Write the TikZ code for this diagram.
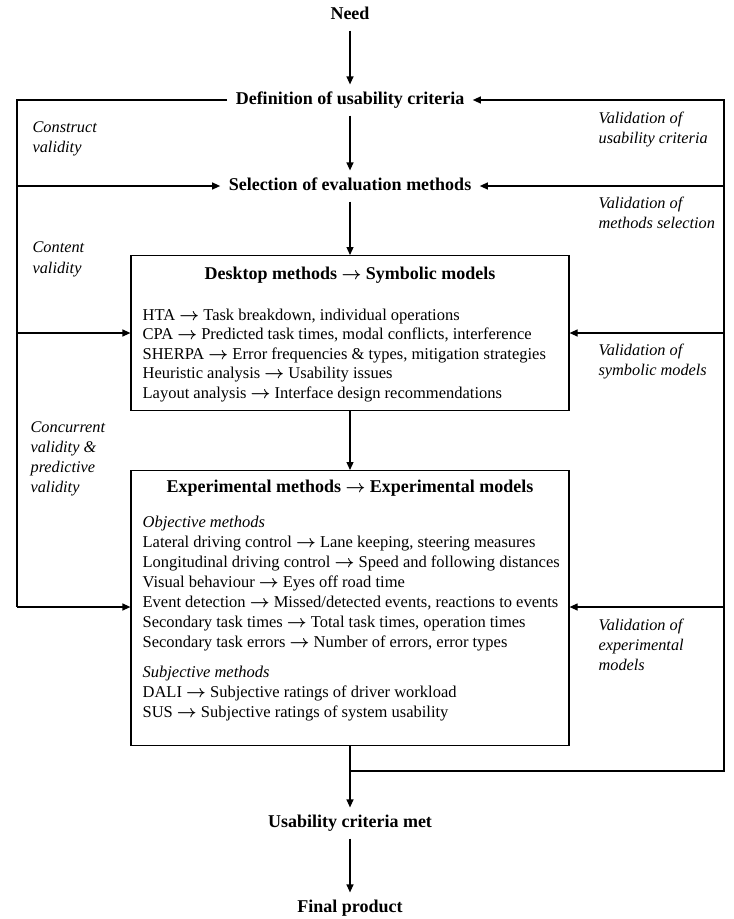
\documentclass[tikz,border=0pt]{standalone}
\usepackage{fontspec}
\setmainfont{Liberation Serif}
\newcommand{\ra}{{\boldmath$\rightarrow$}}
\usetikzlibrary{arrows.meta}
\begin{document}
\begin{tikzpicture}[x=1pt,y=-1pt,
  line width=1.2pt,
  arr/.style={-{Triangle[length=8pt,width=7pt]}},
  stage/.style={font=\fontsize{18}{21}\selectfont\bfseries, inner xsep=8pt, inner ysep=7pt, text height=12pt, text depth=4pt},
  boxtitle/.style={font=\fontsize{18}{21}\selectfont\bfseries, anchor=base, inner sep=0pt},
  body/.style={font=\fontsize{16.5}{19}\selectfont, anchor=base west, inner sep=0pt},
  ibody/.style={font=\fontsize{16.5}{19}\selectfont\itshape, anchor=base west, inner sep=0pt},
  lab/.style={font=\fontsize{16.3}{19}\selectfont\itshape, anchor=base west, inner sep=0pt},
  panel/.style={draw, line width=1.2pt, inner sep=0pt, minimum width=438pt, anchor=north}]
\useasboundingbox (0,0) rectangle (734,919);

% main stages
\node[stage] (need) at (350,15) {Need};
\node[stage] (def) at (350,100) {Definition of usability criteria};
\node[stage] (sel) at (350,186) {Selection of evaluation methods};
\node[stage] (usab) at (350,823) {Usability criteria met};
\node[stage] (final) at (350,908) {Final product};

% boxes
\node[panel, minimum height=155pt] (box1) at (350,255) {};
\node[panel, minimum height=275pt] (box2) at (350,470) {};

% box 1 text
\node[boxtitle] (t1) at (350,279) {Desktop methods \ra{} Symbolic models};
\node[body] (b11) at (142,320) {HTA \ra{} Task breakdown, individual operations};
\node[body] (b12) at (142,339.5) {CPA \ra{} Predicted task times, modal conflicts, interference};
\node[body] (b13) at (142,359) {SHERPA \ra{} Error frequencies \& types, mitigation strategies};
\node[body] (b14) at (142,378.5) {Heuristic analysis \ra{} Usability issues};
\node[body] (b15) at (142,398) {Layout analysis \ra{} Interface design recommendations};

% box 2 text
\node[boxtitle] (t2) at (350,492) {Experimental methods \ra{} Experimental models};
\node[ibody] (b20) at (142,527) {Objective methods};
\node[body] (b21) at (142,547) {Lateral driving control \ra{} Lane keeping, steering measures};
\node[body] (b22) at (142,567) {Longitudinal driving control \ra{} Speed and following distances};
\node[body] (b23) at (142,587) {Visual behaviour \ra{} Eyes off road time};
\node[body] (b24) at (142,607) {Event detection \ra{} Missed/detected events, reactions to events};
\node[body] (b25) at (142,627) {Secondary task times \ra{} Total task times, operation times};
\node[body] (b26) at (142,647) {Secondary task errors \ra{} Number of errors, error types};
\node[ibody] (b27) at (142,677) {Subjective methods};
\node[body] (b28) at (142,697) {DALI \ra{} Subjective ratings of driver workload};
\node[body] (b29) at (142,717) {SUS \ra{} Subjective ratings of system usability};

% left labels
\node[lab] (l1a) at (32,132) {Construct};
\node[lab] (l1b) at (32,152) {validity};
\node[lab] (l2a) at (32,252) {Content};
\node[lab] (l2b) at (32,273) {validity};
\node[lab] (l3a) at (30,432) {Concurrent};
\node[lab] (l3b) at (30,452) {validity \&};
\node[lab] (l3c) at (30,472) {predictive};
\node[lab] (l3d) at (30,492) {validity};

% right labels
\node[lab] (r1a) at (598,123) {Validation of};
\node[lab] (r1b) at (598,143) {usability criteria};
\node[lab] (r2a) at (598,208) {Validation of};
\node[lab] (r2b) at (598,228) {methods selection};
\node[lab] (r3a) at (598,355) {Validation of};
\node[lab] (r3b) at (598,375) {symbolic models};
\node[lab] (r4a) at (598,630) {Validation of};
\node[lab] (r4b) at (598,650) {experimental};
\node[lab] (r4c) at (598,670) {models};

% frame coordinates
\coordinate (L1) at (17,100);
\coordinate (L2) at (17,186);
\coordinate (L3) at (17,333);
\coordinate (L4) at (17,607);
\coordinate (R1) at (724,100);
\coordinate (R2) at (724,186);
\coordinate (R3) at (724,333);
\coordinate (R4) at (724,607);
\coordinate (R5) at (724,771);
\coordinate (M) at (350,771);

% main flow
\draw[arr] (need) -- (def);
\draw[arr] (def) -- (sel);
\draw[arr] (sel) -- (box1.north);
\draw[arr] (box1.south) -- (box2.north);
\draw[arr] (box2.south) -- (usab);
\draw[arr] (usab) -- (final);

% left feedback
\draw (def.west) -- (L1) -- (L4);
\draw[arr] (L4) -- (box2.west |- L4);
\draw[arr] (L2) -- (sel.west);
\draw[arr] (L3) -- (box1.west |- L3);

% right feedback
\draw[arr] (M) -- (R5) -- (R1) -- (def.east);
\draw[arr] (R2) -- (sel.east);
\draw[arr] (R3) -- (box1.east |- R3);
\draw[arr] (R4) -- (box2.east |- R4);
\end{tikzpicture}
\end{document}
